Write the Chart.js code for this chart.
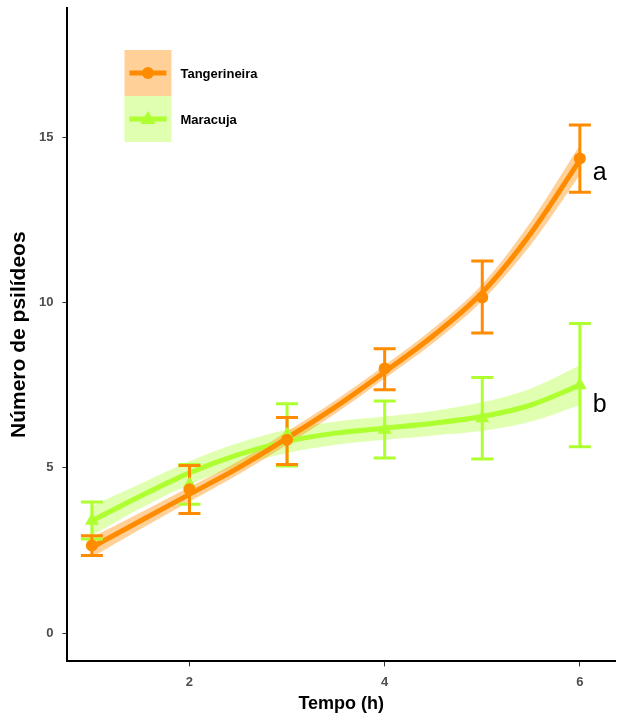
<!DOCTYPE html>
<html>
<head>
<meta charset="utf-8">
<script src="https://cdn.jsdelivr.net/npm/chart.js@4.4.1/dist/chart.umd.min.js"></script>
<style>
  html, body { margin: 0; padding: 0; background: #fff; overflow: hidden; }
  #wrap { width: 617px; height: 717px; }
</style>
</head>
<body>
<div id="wrap"><canvas id="myChart"></canvas></div>
<script>
// observed means and error bars
const xHours = [1, 2, 3, 4, 5, 6];
const tangMean = [2.65, 4.35, 5.85, 8.0, 10.15, 14.35];
const tangLow = [2.35, 3.62, 5.1, 7.36, 9.08, 13.33];
const tangHigh = [2.95, 5.07, 6.52, 8.6, 11.25, 15.36];
const maraMean = [3.4, 4.5, 6.0, 6.15, 6.5, 7.5];
const maraLow = [2.85, 3.9, 5.06, 5.3, 5.27, 5.64];
const maraHigh = [3.97, 5.1, 6.94, 7.02, 7.73, 9.36];

// fitted curves with confidence band
const fitX = [1, 1.5, 2, 2.5, 3, 3.5, 4, 4.5, 5, 5.5, 6];
const tangFit = [2.6, 3.4, 4.2, 5.0, 5.9, 6.85, 7.9, 9.0, 10.3, 12.1, 14.3];
const tangFitLow = [2.3, 3.15, 3.98, 4.8, 5.7, 6.65, 7.7, 8.78, 10.05, 11.75, 13.85];
const tangFitHigh = [2.9, 3.65, 4.42, 5.2, 6.1, 7.05, 8.1, 9.22, 10.55, 12.45, 14.75];
const maraFit = [3.4, 4.15, 4.85, 5.4, 5.8, 6.05, 6.2, 6.35, 6.55, 6.9, 7.5];
const maraFitLow = [2.95, 3.78, 4.5, 5.05, 5.45, 5.7, 5.85, 5.98, 6.12, 6.4, 6.9];
const maraFitHigh = [3.85, 4.52, 5.2, 5.75, 6.15, 6.4, 6.55, 6.72, 6.98, 7.4, 8.1];

const seriesNames = ["Tangerineira", "Maracuja"];
const letters = ["a", "b"];
const letterY = [13.9, 6.9];
const yTicks = [0, 5, 10, 15];
const xTicks = [2, 4, 6];

const orange = "#FF8C00";
const green = "#ADFF2F";
const orangeBand = "rgba(255,140,0,0.4)";
const greenBand = "rgba(173,255,47,0.38)";
const fontFam = "'Liberation Sans', Arial, sans-serif";

const pts = (xs, ys) => xs.map((x, i) => ({x: x, y: ys[i]}));

// scales add padding for their end labels, we don't want it
function noScalePad(s) {
  s.paddingTop = 0; s.paddingBottom = 0;
  s.paddingLeft = 0; s.paddingRight = 0;
}

const errorBars = {
  id: "errorBars",
  beforeDatasetDraw(chart, args) {
    if (args.meta.order !== 1) return;
    const ctx = chart.ctx;
    const xs = chart.scales.x, ys = chart.scales.y;
    const groups = [[maraLow, maraHigh, green], [tangLow, tangHigh, orange]];
    ctx.save();
    ctx.lineWidth = 3;
    groups.forEach(g => {
      ctx.strokeStyle = g[2];
      xHours.forEach((h, i) => {
        const px = xs.getPixelForValue(h);
        const lo = ys.getPixelForValue(g[0][i]);
        const hi = ys.getPixelForValue(g[1][i]);
        ctx.beginPath();
        ctx.moveTo(px, lo); ctx.lineTo(px, hi);
        ctx.moveTo(px - 11, lo); ctx.lineTo(px + 11, lo);
        ctx.moveTo(px - 11, hi); ctx.lineTo(px + 11, hi);
        ctx.stroke();
      });
    });
    ctx.restore();
  },
  afterDraw(chart) {
    const ctx = chart.ctx;
    const xs = chart.scales.x, ys = chart.scales.y;
    ctx.save();
    // letters next to last point
    ctx.fillStyle = "#000";
    ctx.font = "25px " + fontFam;
    ctx.textAlign = "left";
    ctx.textBaseline = "middle";
    letters.forEach((l, i) => {
      ctx.fillText(l, xs.getPixelForValue(6) + 13, ys.getPixelForValue(letterY[i]));
    });
    // legend
    const left = chart.chartArea.left + 57;
    const top = chart.chartArea.top + 42;
    const cols = [[orangeBand, orange, "circle"], [greenBand, green, "triangle"]];
    cols.forEach((c, i) => {
      const y0 = top + i * 46;
      ctx.fillStyle = c[0];
      ctx.fillRect(left, y0, 47, 46);
      const cy = y0 + 23;
      ctx.strokeStyle = c[1];
      ctx.lineWidth = 5;
      ctx.beginPath();
      ctx.moveTo(left + 5, cy); ctx.lineTo(left + 42, cy);
      ctx.stroke();
      ctx.fillStyle = c[1];
      ctx.beginPath();
      if (c[2] === "circle") {
        ctx.arc(left + 23.5, cy, 6, 0, Math.PI * 2);
      } else {
        ctx.moveTo(left + 23.5, cy - 8);
        ctx.lineTo(left + 31, cy + 5);
        ctx.lineTo(left + 16, cy + 5);
        ctx.closePath();
      }
      ctx.fill();
      ctx.fillStyle = "#000";
      ctx.font = "bold 13px " + fontFam;
      ctx.fillText(seriesNames[i], left + 56, cy + 1);
    });
    ctx.restore();
  }
};

new Chart("myChart", {
  type: "line",
  data: {
    datasets: [
      {data: pts(fitX, maraFitHigh), fill: "+1", backgroundColor: greenBand, borderWidth: 0, pointRadius: 0, cubicInterpolationMode: "monotone", order: 7},
      {data: pts(fitX, maraFitLow), fill: false, borderWidth: 0, pointRadius: 0, cubicInterpolationMode: "monotone", order: 7},
      {data: pts(fitX, tangFitHigh), fill: "+1", backgroundColor: orangeBand, borderWidth: 0, pointRadius: 0, cubicInterpolationMode: "monotone", order: 6},
      {data: pts(fitX, tangFitLow), fill: false, borderWidth: 0, pointRadius: 0, cubicInterpolationMode: "monotone", order: 6},
      {data: pts(fitX, maraFit), borderColor: green, borderWidth: 5, pointRadius: 0, cubicInterpolationMode: "monotone", order: 5},
      {data: pts(fitX, tangFit), borderColor: orange, borderWidth: 5, pointRadius: 0, cubicInterpolationMode: "monotone", order: 4},
      {data: pts(xHours, maraMean), showLine: false, pointStyle: "triangle", pointRadius: 8, backgroundColor: green, borderColor: green, borderWidth: 0, order: 1},
      {data: pts(xHours, tangMean), showLine: false, pointStyle: "circle", pointRadius: 6, backgroundColor: orange, borderColor: orange, borderWidth: 0, order: 0}
    ]
  },
  options: {
    responsive: true,
    maintainAspectRatio: false,
    animation: false,
    layout: {autoPadding: false, padding: {top: 8, right: 2, left: 6, bottom: 4}},
    plugins: {legend: {display: false}, tooltip: {enabled: false}},
    scales: {
      x: {
        type: "linear",
        min: 0.75,
        max: 6.36,
        afterBuildTicks: s => { s.ticks = xTicks.map(v => ({value: v})); },
        afterFit: noScalePad,
        grid: {drawOnChartArea: false, drawTicks: true, tickLength: 5, color: "#333"},
        border: {color: "#000", width: 2},
        ticks: {color: "#4d4d4d", font: {size: 13, weight: "bold", family: fontFam}, padding: 8},
        // tick padding is counted twice in the axis size, so take it back here
        title: {display: true, text: "Tempo (h)", color: "#000", font: {size: 18, weight: "bold", family: fontFam, lineHeight: 1}, padding: {top: -3, bottom: 0}}
      },
      y: {
        min: -0.85,
        max: 18.9,
        afterBuildTicks: s => { s.ticks = yTicks.map(v => ({value: v})); },
        afterFit: noScalePad,
        grid: {drawOnChartArea: false, drawTicks: true, tickLength: 5, color: "#333"},
        border: {color: "#000", width: 2},
        ticks: {color: "#4d4d4d", font: {size: 13, weight: "bold", family: fontFam}, padding: 9},
        title: {display: true, text: "Número de psilídeos", color: "#000", font: {size: 21, weight: "bold", family: fontFam, lineHeight: 1}, padding: {top: 3, bottom: 0}}
      }
    }
  },
  plugins: [errorBars]
});
</script>
</body>
</html>
